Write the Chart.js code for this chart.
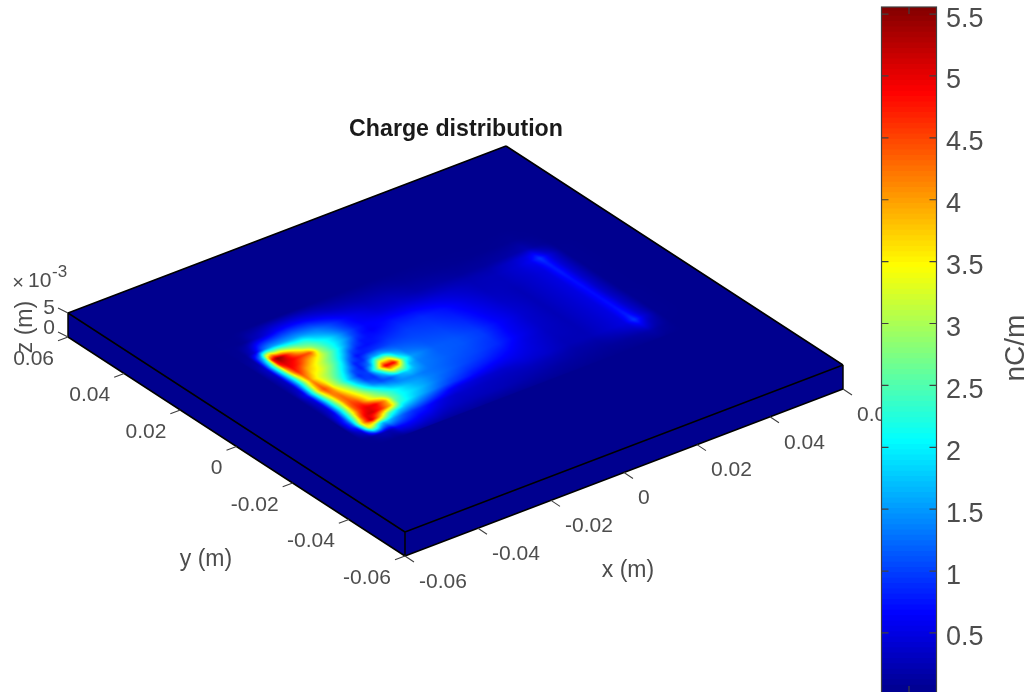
<!DOCTYPE html>
<html>
<head>
<meta charset="utf-8">
<title>Charge distribution</title>
<script src="https://cdn.jsdelivr.net/npm/chart.js@4"></script>
<style>
html,body{margin:0;padding:0;background:#fff;overflow:hidden}
#wrap{position:relative;width:1027px;height:692px;overflow:hidden}
canvas{position:absolute;top:0;display:block;filter:blur(0.45px)}
#plate{left:0}
#bar{left:860px}
</style>
</head>
<body>
<div id="wrap"><canvas id="plate" width="1027" height="692"></canvas><canvas id="bar" width="167" height="692"></canvas></div>
<script>
const chartTitle = 'Charge distribution';
const xTicks = [-0.06,-0.04,-0.02,0,0.02,0.04,0.06];
const xTickLabels = ['-0.06','-0.04','-0.02','0','0.02','0.04','0.06'];
const yTicks = [-0.06,-0.04,-0.02,0,0.02,0.04,0.06];
const yTickLabels = ['-0.06','-0.04','-0.02','0','0.02','0.04','0.06'];
const zTicks = [0,0.005];
const zTickLabels = ['0','5'];
const colorTicks = [0.5,1,1.5,2,2.5,3,3.5,4,4.5,5,5.5];
const colorTickLabels = ['0.5','1','1.5','2','2.5','3','3.5','4','4.5','5','5.5'];
const colorMin = 0.023, colorMax = 5.557;

// Surface sample positions (metres) and charge (nC/m), one row per y position
const gridX = [-0.0432,-0.0408,-0.0384,-0.0372,-0.036,-0.0348,-0.0336,-0.0312,-0.0288,-0.0264,-0.024,-0.0216,-0.0192,-0.0168,-0.0144,-0.012,-0.006,0,0.006,0.012,0.018,0.024,0.03,0.0336,0.036,0.0384,0.042,0.048];
const gridY = [-0.0264,-0.0228,-0.0192,-0.0168,-0.0144,-0.012,-0.0096,-0.0072,-0.0048,-0.0024,0,0.0024,0.0048,0.0072,0.0096,0.012,0.0144,0.0168,0.0192,0.0216,0.0264,0.0312];
const charge = [
[.02,.02,.02,.02,.02,.03,.06,.15,.15,.15,.12,.1,.1,.1,.1,.08,.07,.07,.06,.05,.04,.03,.03,.04,.05,.03,.02,.02],
[.02,.04,.2,.25,.2,.3,.6,.65,.6,.5,.45,.35,.3,.28,.26,.25,.24,.2,.16,.12,.1,.08,.1,.14,.18,.1,.02,.02],
[.06,.5,3.4,3.1,2.2,1.7,1.8,1.4,1.1,.9,.8,.65,.5,.4,.35,.35,.3,.28,.28,.24,.16,.16,.28,.38,.6,.28,.03,.02],
[.1,1,3.8,4.6,5.2,4.6,3.9,2.5,1.9,1.6,1.4,1.2,1,.8,.6,.5,.4,.35,.4,.35,.23,.24,.38,.48,.95,.45,.04,.02],
[.1,1,3,4.3,4.9,5.1,5.1,4.6,3.8,2.3,2,1.7,1.5,1.3,1.1,.95,.7,.55,.5,.4,.25,.24,.38,.48,.8,.4,.04,.02],
[.06,.75,2.6,3.6,4.4,4.8,5,4.9,4.1,2.6,2.1,1.9,1.7,1.5,1.3,1.15,.9,.75,.6,.43,.28,.24,.38,.48,.75,.38,.04,.02],
[.05,.5,2.3,3.3,4.3,4.6,4.6,3.6,3,2.5,2.1,1.8,1.6,1.5,1.35,1.25,1.05,.9,.72,.47,.3,.24,.38,.48,.72,.36,.04,.02],
[.04,.4,2.3,3.1,4.1,4.4,4.2,3.4,2.7,2.1,1.6,1.4,1.4,1.4,1.3,1.25,1.1,1,.85,.55,.33,.24,.38,.48,.72,.36,.04,.02],
[.04,.4,2.3,3.2,4.1,4.3,3.9,3.1,2.2,1.4,1.05,1.1,1.6,1.8,1.55,1.3,1.15,1.05,.9,.57,.35,.24,.38,.48,.7,.34,.03,.02],
[.04,.45,2.5,3.5,4.2,4.1,3.6,2.8,1.8,1,.9,1.8,3.4,3,1.7,1.35,1.15,1.1,.95,.6,.36,.24,.38,.48,.7,.34,.03,.02],
[.04,.6,2.7,3.9,4.5,4.1,3.3,2.5,1.6,.85,1,2.6,5,4.9,2.4,1.5,1.15,1.1,.95,.63,.38,.24,.38,.48,.7,.34,.03,.02],
[.05,.4,2.5,3.6,4.3,3.8,3.3,2.6,2,1.1,.75,1.4,3.2,3.2,1.8,1.3,1.1,1.05,.9,.6,.38,.24,.38,.48,.72,.36,.03,.02],
[.05,.3,2.2,3.2,4.1,3.6,3.3,2.9,2.4,1.7,.8,.85,1.5,1.6,1.3,1.15,1.05,1,.85,.57,.36,.24,.38,.48,.72,.36,.03,.02],
[.05,.3,2.2,3.4,4.3,4,3.6,3.3,2.8,2.2,1.3,.7,.8,.9,.95,1,1,.95,.8,.55,.33,.24,.38,.48,.75,.37,.04,.02],
[.05,.3,2.4,3.9,4.7,4.4,4,3.5,3,2.5,1.9,1.1,.75,.7,.75,.85,.95,.9,.75,.51,.31,.24,.38,.48,.78,.39,.04,.02],
[.05,.35,2.6,4.2,4.9,4.8,4.6,4,3.5,2.9,2.3,1.7,1.1,.75,.7,.72,.85,.85,.7,.47,.28,.26,.38,.48,.78,.4,.04,.02],
[.05,.35,2.7,4.8,5.1,5,4.9,4.6,4.4,2.9,2.3,1.9,1.5,1,.7,.6,.75,.72,.58,.41,.26,.26,.4,.52,.82,.42,.04,.02],
[.05,.2,2.3,4.9,5.5,5.3,4.8,3.8,3,2.6,2.2,1.9,1.5,1.1,.8,.65,.6,.55,.45,.35,.24,.26,.4,.58,.95,.46,.04,.02],
[.05,.12,1.6,3.2,3.6,3.1,3.1,2.6,2.3,2.2,1.8,1.55,1.3,1,.75,.6,.45,.4,.3,.25,.2,.2,.34,.46,.6,.28,.03,.02],
[.03,.06,.4,.8,1.2,1.4,1.5,1.5,1.5,1.5,1.4,1.3,1.1,.9,.7,.55,.35,.3,.18,.15,.1,.1,.14,.18,.22,.1,.02,.02],
[.03,.03,.03,.06,.15,.25,.3,.45,.6,.65,.65,.6,.5,.4,.3,.25,.18,.15,.08,.06,.04,.03,.03,.04,.05,.03,.02,.02],
[.02,.02,.02,.02,.02,.02,.02,.02,.02,.02,.02,.02,.02,.02,.02,.02,.02,.02,.02,.02,.02,.02,.02,.02,.02,.02,.02,.02]
];

// View: orthographic projection of metres onto view units
const plateLimit = 0.06, zBottom = 0, zTop = 0.005;
const view = {cx:455.5, cy:363, xx:3650, xy:-2808, yx:-1391.7, yy:-1825, yz:-4800};
const viewX = (x,y) => view.cx + view.xx*x + view.xy*y;
const viewY = (x,y,z) => view.cy + view.yx*x + view.yy*y + view.yz*z;
const pt = (x,y,z) => ({x:viewX(x,y), y:viewY(x,y,z)});

function jet(v){
  const t = Math.min(1,Math.max(0,(v-colorMin)/(colorMax-colorMin)));
  const s = 1/64 + t*63/64;
  const c = k => Math.round(255*Math.min(1,Math.max(0,1.5-Math.abs(4*s-k))));
  return [c(3),c(2),c(1)];
}
const rgb = a => `rgb(${a[0]},${a[1]},${a[2]})`;
const BASE = rgb(jet(colorMin));
const L = plateLimit;

const poly = (pts,order) => ({data:pts,showLine:true,fill:'shape',backgroundColor:BASE,borderColor:BASE,borderWidth:0,pointRadius:0,order});
const linked = (segs,color,width,order) => {
  const data=[]; segs.forEach(s=>{data.push(s[0],s[1],{x:null,y:null});});
  return {data,showLine:true,fill:false,borderColor:color,borderWidth:width,pointRadius:0,spanGaps:false,order};
};

const faceFront = [pt(-L,-L,zTop),pt(L,-L,zTop),pt(L,-L,zBottom),pt(-L,-L,zBottom),pt(-L,-L,zTop)];
const faceLeft  = [pt(-L,L,zTop),pt(-L,-L,zTop),pt(-L,-L,zBottom),pt(-L,L,zBottom),pt(-L,L,zTop)];
const faceTop   = [pt(-L,-L,zTop),pt(L,-L,zTop),pt(L,L,zTop),pt(-L,L,zTop),pt(-L,-L,zTop)];
const surfacePts = [];
gridY.forEach((y,j)=>gridX.forEach((x,i)=>surfacePts.push({...pt(x,y,zTop),v:charge[j][i]})));

const edges = [
 [pt(-L,-L,zTop),pt(L,-L,zTop)],[pt(L,-L,zTop),pt(L,L,zTop)],[pt(L,L,zTop),pt(-L,L,zTop)],[pt(-L,L,zTop),pt(-L,-L,zTop)],
 [pt(-L,L,zTop),pt(-L,L,zBottom)],[pt(-L,-L,zTop),pt(-L,-L,zBottom)],[pt(L,-L,zTop),pt(L,-L,zBottom)],
 [pt(-L,L,zBottom),pt(-L,-L,zBottom)],[pt(-L,-L,zBottom),pt(L,-L,zBottom)]
];
const shift = (p,dx,dy)=>({x:p.x+dx,y:p.y+dy});
const tickSegs = [];
xTicks.forEach(x=>{const p=pt(x,-L,zBottom);tickSegs.push([p,shift(p,9,6)]);});
yTicks.forEach(y=>{const p=pt(-L,y,zBottom);tickSegs.push([p,shift(p,-10,3.8)]);});
zTicks.forEach(z=>{const p=pt(-L,L,z);tickSegs.push([p,shift(p,-10,-5)]);});

const SURF = 2;
const surfacePlugin = {
  id:'surface',
  afterDatasetDraw(chart,args){
    if(args.index!==SURF) return;
    const W=300,H=300, off=document.createElement('canvas'); off.width=W; off.height=H;
    const octx=off.getContext('2d'), img=octx.createImageData(W,H);
    const locate=(arr,v)=>{ if(v<arr[0]||v>arr[arr.length-1]) return -1; let i=0; while(i<arr.length-2&&v>arr[i+1]) i++; return i; };
    for(let j=0;j<H;j++){
      const y=-L+2*L*(j+.5)/H, b=locate(gridY,y);
      for(let i=0;i<W;i++){
        const x=-L+2*L*(i+.5)/W, a=locate(gridX,x);
        let v=colorMin;
        if(a>=0&&b>=0){
          const s=(x-gridX[a])/(gridX[a+1]-gridX[a]), t=(y-gridY[b])/(gridY[b+1]-gridY[b]);
          v=(charge[b][a]*(1-s)+charge[b][a+1]*s)*(1-t)+(charge[b+1][a]*(1-s)+charge[b+1][a+1]*s)*t;
        }
        const c=jet(v), k=4*(j*W+i);
        img.data[k]=c[0];img.data[k+1]=c[1];img.data[k+2]=c[2];img.data[k+3]=255;
      }
    }
    octx.putImageData(img,0,0);
    const sx=chart.scales.x, sy=chart.scales.y, P=p=>[sx.getPixelForValue(p.x),sy.getPixelForValue(p.y)];
    const o=P(pt(-L,-L,zTop)), u=P(pt(L,-L,zTop)), w=P(pt(-L,L,zTop));
    const ctx=chart.ctx; ctx.save();
    ctx.imageSmoothingEnabled=true; ctx.imageSmoothingQuality='high';
    ctx.transform((u[0]-o[0])/W,(u[1]-o[1])/W,(w[0]-o[0])/H,(w[1]-o[1])/H,o[0],o[1]);
    ctx.drawImage(off,0,0);
    ctx.restore();
  }
};

const TEXT='#4d4d4d';
const FAMILY='"Liberation Sans", Arial, sans-serif';
const textPlugin = {
  id:'axisText',
  afterDraw(chart){
    const ctx=chart.ctx, sx=chart.scales.x, sy=chart.scales.y;
    const at=p=>[sx.getPixelForValue(p.x),sy.getPixelForValue(p.y)];
    const put=(s,X,Y,font,align,color,rot)=>{
      ctx.save();ctx.font=font;ctx.fillStyle=color||TEXT;ctx.textAlign=align||'center';ctx.textBaseline='middle';
      ctx.translate(X,Y);if(rot)ctx.rotate(rot);ctx.fillText(s,0,0);ctx.restore();
    };
    const F='21px '+FAMILY, AX='23px '+FAMILY;
    xTicks.forEach((x,i)=>{const q=at(pt(x,-L,zBottom));put(xTickLabels[i],q[0]+14,q[1]+26,F,'left');});
    yTicks.forEach((y,i)=>{const q=at(pt(-L,y,zBottom));put(yTickLabels[i],q[0]-14,q[1]+22,F,'right');});
    const zOff=[-8.5,-5];
    zTicks.forEach((z,i)=>{const q=at(pt(-L,L,z));put(zTickLabels[i],q[0]-13,q[1]+zOff[i],F,'right');});
    put('×',18,283,'20px '+FAMILY);
    put('10',28,281,F,'left');
    put('-3',52,272,'17px '+FAMILY,'left');
    put('z (m)',26,327,AX,'center',TEXT,-Math.PI/2);
    put('y (m)',206,560,AX);
    put('x (m)',628,571,AX);
    put(chartTitle,456,129.5,'bold 23.2px '+FAMILY,'center','#1a1a1a');
  }
};

new Chart(document.getElementById('plate'),{
  type:'scatter',
  data:{datasets:[
    poly(faceFront,6),
    poly(faceLeft,5),
    {label:'charge',data:surfacePts,pointRadius:0,showLine:false,order:3},
    poly(faceTop,4),
    linked(edges,'#000000',1.5,2),
    linked(tickSegs,'#404040',1.1,1)
  ]},
  options:{
    responsive:false,animation:false,devicePixelRatio:1,
    layout:{padding:0},
    plugins:{legend:{display:false},tooltip:{enabled:false},title:{display:false}},
    scales:{
      x:{type:'linear',min:0,max:1027,display:false},
      y:{type:'linear',min:0,max:692,reverse:true,display:false}
    },
    elements:{line:{tension:0}}
  },
  plugins:[surfacePlugin,textPlugin]
});

// Colour bar
const LEVELS=128, barSets=[];
for(let i=0;i<LEVELS;i++){
  const lo=colorMin+(colorMax-colorMin)*i/LEVELS, hi=colorMin+(colorMax-colorMin)*(i+1.3)/LEVELS;
  barSets.push({data:[[lo,Math.min(hi,colorMax)]],backgroundColor:rgb(jet((lo+colorMin+(colorMax-colorMin)*(i+1)/LEVELS)/2)),borderWidth:0,barPercentage:1,categoryPercentage:1,grouped:false,order:i});
}
const barPlugin={
  id:'barFrame',
  afterDraw(chart){
    const {left,right,top,bottom}=chart.chartArea, ctx=chart.ctx, ys=chart.scales.y;
    ctx.save();ctx.strokeStyle='#404040';ctx.lineWidth=1.2;
    ctx.strokeRect(left,top,right-left,bottom-top+4);
    ctx.beginPath();
    colorTicks.forEach(v=>{const Y=ys.getPixelForValue(v);ctx.moveTo(left,Y);ctx.lineTo(left+7,Y);ctx.moveTo(right,Y);ctx.lineTo(right-7,Y);});
    const mid=(left+right)/2;ctx.moveTo(mid,top);ctx.lineTo(mid,top+7);ctx.moveTo(mid,bottom);ctx.lineTo(mid,bottom-6);
    ctx.stroke();
    ctx.fillStyle=TEXT;ctx.font='27px '+FAMILY;ctx.textAlign='left';ctx.textBaseline='middle';
    colorTicks.forEach((v,i)=>ctx.fillText(colorTickLabels[i],right+9.5,ys.getPixelForValue(v)+5));
    ctx.textAlign='center';ctx.font='28px '+FAMILY;
    ctx.translate(156,348);ctx.rotate(-Math.PI/2);ctx.fillText('nC/m',0,0);
    ctx.restore();
  }
};
new Chart(document.getElementById('bar'),{
  type:'bar',
  data:{labels:['nC/m'],datasets:barSets},
  options:{
    responsive:false,animation:false,devicePixelRatio:1,
    layout:{padding:{left:21.5,top:7,bottom:0,right:0}},
    plugins:{legend:{display:false},tooltip:{enabled:false}},
    scales:{
      x:{display:false},
      y:{type:'linear',position:'right',min:colorMin,max:colorMax,
         grid:{display:false},border:{display:false},
         afterBuildTicks(s){s.ticks=colorTicks.map(v=>({value:v}));},
         afterFit(s){s.width=90.5;s.paddingTop=0;s.paddingBottom=0;},
         ticks:{display:false}
      }
    }
  },
  plugins:[barPlugin]
});
</script>
</body>
</html>
